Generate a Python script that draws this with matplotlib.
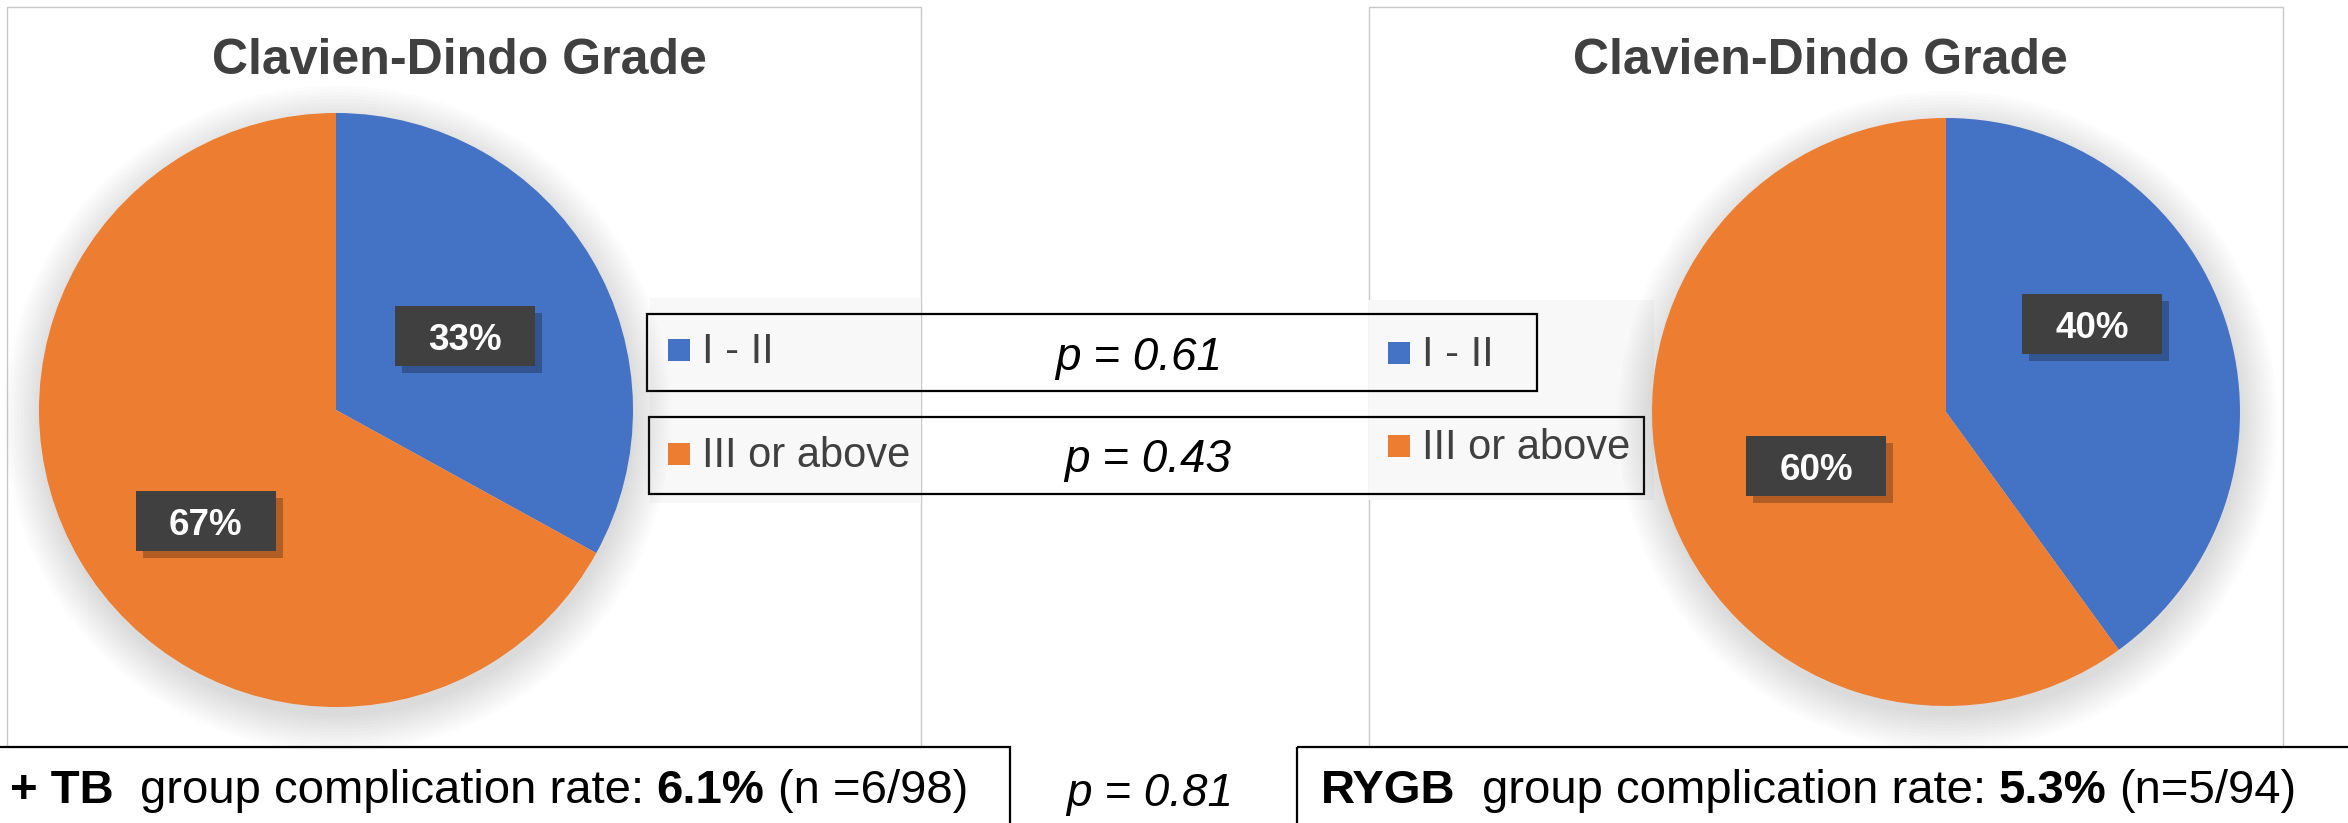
import matplotlib
matplotlib.use("Agg")
import matplotlib.pyplot as plt
from matplotlib.patches import Rectangle, Circle

plt.rcParams['font.family'] = ['Liberation Sans', 'DejaVu Sans']

# data
grades = ['I - II', 'III or above']
left_pct = [33, 67]
right_pct = [40, 60]
grade_p = ['p = 0.61', 'p = 0.43']
overall_p = 'p = 0.81'
left_group = [('+ TB', 'bold'), ('group complication rate:', 'normal'), ('6.1%', 'bold'), ('(n =6/98)', 'normal')]
right_group = [('RYGB', 'bold'), ('group complication rate:', 'normal'), ('5.3%', 'bold'), ('(n=5/94)', 'normal')]
title = 'Clavien-Dindo Grade'

colors = ['#4472C4', '#ED7D31']
dark = '#404040'

W, H = 2348, 823
fig = plt.figure(figsize=(W / 100, H / 100), dpi=100)
fig.patch.set_facecolor('white')

# background axes in pixel units (y down)
bg = fig.add_axes([0, 0, 1, 1])
bg.set_xlim(0, W)
bg.set_ylim(H, 0)
bg.axis('off')

# panel frames
bg.add_patch(Rectangle((7, 7), 914, 740, fill=False, edgecolor='#c8c8c8', lw=1))
bg.add_patch(Rectangle((1369, 7), 914, 740, fill=False, edgecolor='#c8c8c8', lw=1))
# legend backgrounds
bg.add_patch(Rectangle((650, 298), 271, 205, facecolor='#f8f8f8', edgecolor='none'))
bg.add_patch(Rectangle((1369, 300), 285, 200, facecolor='#f8f8f8', edgecolor='none'))

bg.text(459, 74, title, fontsize=36, fontweight='bold', color=dark, ha='center', va='baseline')
bg.text(1820, 74, title, fontsize=36, fontweight='bold', color=dark, ha='center', va='baseline')


def draw_pie(cx, cy, r, values, label_pos):
    m = 1.15
    ax = fig.add_axes([(cx - m * r) / W, 1 - (cy + m * r) / H, 2 * m * r / W, 2 * m * r / H])
    ax.axis('off')
    # soft shadow
    for k in range(12):
        ax.add_patch(Circle((0.005, -0.03), 1.0 + 0.011 * k, color='0.45', alpha=0.018, lw=0))
    wedges, texts, autotexts = ax.pie(values, colors=colors, startangle=90, counterclock=False,
                                      radius=1, autopct='%.0f%%', textprops=dict(color='white'))
    ax.set_xlim(-m, m)
    ax.set_ylim(-m, m)
    bw, bh = 140 / r, 60 / r
    for t, (px, py) in zip(autotexts, label_pos):
        ax.add_patch(Rectangle((px - bw / 2 + 7 / r, py - bh / 2 - 7 / r), bw, bh,
                               facecolor='black', alpha=0.25, lw=0, zorder=3))
        ax.add_patch(Rectangle((px - bw / 2, py - bh / 2), bw, bh, facecolor=dark, lw=0, zorder=4))
        t.set_position((px, py))
        t.set_fontsize(26.5)
        t.set_fontweight('bold')
        t.set_va('center_baseline')
        t.set_zorder(5)
    return ax


draw_pie(336, 410, 297, left_pct, [(0.434, 0.249), (-0.438, -0.374)])
draw_pie(1946, 412, 294, right_pct, [(0.497, 0.299), (-0.442, -0.184)])

# legend / p-value boxes
bg.add_patch(Rectangle((647, 314), 890, 77, fill=False, edgecolor='black', lw=1.6, zorder=5))
bg.add_patch(Rectangle((649, 417), 995, 77, fill=False, edgecolor='black', lw=1.6, zorder=5))

left_base = [363, 467]
right_base = [366, 459]
p_base = [370, 472]
p_x = [1139, 1148]
for i in range(2):
    bg.add_patch(Rectangle((668, left_base[i] - 24), 22, 22, facecolor=colors[i], lw=0))
    bg.text(702, left_base[i], grades[i], fontsize=30, color=dark, va='baseline')
    bg.add_patch(Rectangle((1388, right_base[i] - 24), 22, 22, facecolor=colors[i], lw=0))
    bg.text(1422, right_base[i], grades[i], fontsize=30, color=dark, va='baseline')
    bg.text(p_x[i], p_base[i], grade_p[i], fontsize=33, style='italic', color='black',
            ha='center', va='baseline')

# bottom boxes
bg.add_patch(Rectangle((-10, 747), 1020, 100, fill=False, edgecolor='black', lw=1.6))
bg.add_patch(Rectangle((1297, 747), 1100, 100, fill=False, edgecolor='black', lw=1.6))
bg.text(1150, 806, overall_p, fontsize=33, style='italic', color='black', ha='center', va='baseline')

renderer = fig.canvas.get_renderer()


def draw_pieces(x, y, pieces, gaps):
    for (s, w), gap in zip(pieces, gaps):
        t = bg.text(x, y, s, fontsize=34, fontweight=w, color='black', va='baseline', ha='left')
        bb = t.get_window_extent(renderer=renderer)
        x += bb.width + gap


draw_pieces(10, 803, left_group, [26, 13, 13, 0])
draw_pieces(1321, 803, right_group, [26, 13, 13, 0])

fig.savefig('out.png', dpi=100, facecolor='white')
